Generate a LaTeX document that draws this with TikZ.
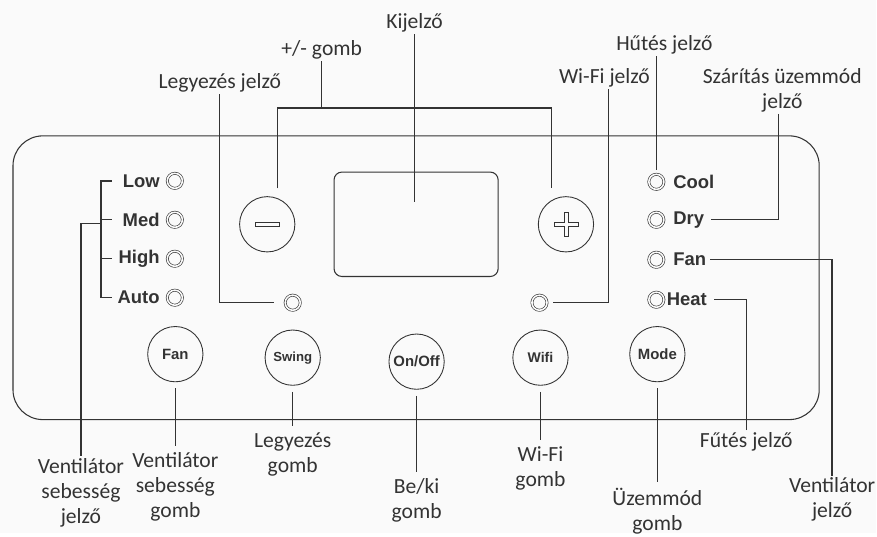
\documentclass[tikz,border=0pt]{standalone}
\usepackage{fontspec}
\setmainfont{Carlito}
\newfontfamily\btnfont{Liberation Sans}
\usetikzlibrary{positioning}

\definecolor{ink}{HTML}{333333}
\definecolor{paper}{HTML}{FAFAFA}

\begin{document}
\begin{tikzpicture}
    [x=0.02cm,y=-0.02cm,color=ink,every node/.style={inner sep=1pt}]

    \tikzstyle{led}   = [draw,circle,double=paper,double distance=0.9pt,line width=0.35pt,minimum size=8.6pt,inner sep=0pt]
    \tikzstyle{btn}   = [draw,circle,line width=0.5pt,minimum size=31.5pt,inner sep=0pt,font=\btnfont\bfseries\fontsize{8.5}{10}\selectfont]
    \tikzstyle{key}   = [font=\btnfont\bfseries\fontsize{10.5}{12}\selectfont]
    \tikzstyle{label} = [align=center,font=\fontsize{12.3}{14.3}\selectfont]
    \tikzstyle{lead}  = [line width=0.8pt]
    \tikzstyle{tolab} = [lead,shorten <=3.5pt,shorten >=2.5pt]

    \fill [paper] (0,0) rectangle (877,534);
    \draw [line width=0.6pt,rounded corners=17pt] (13,136) rectangle (820,420);

    % display and +/- keys
    \node [draw,line width=0.6pt,rounded corners=4.5pt,minimum width=93.5pt,minimum height=59.5pt] (disp) at (416.5,224.5) {};
    \node [btn] (minus) at (267.5,224.5) {};
    \node [btn] (plus)  at (566.5,224.5) {};
    \draw [line width=0.4pt] (minus.center) +(-12,-2) rectangle +(12,2);
    \draw [line width=0.4pt] (plus.center) +(-12,-2) -- +(-2,-2) -- +(-2,-12) -- +(2,-12) -- +(2,-2)
          -- +(12,-2) -- +(12,2) -- +(2,2) -- +(2,12) -- +(-2,12) -- +(-2,2) -- +(-12,2) -- cycle;

    % fan speed leds
    \node [led] (ledlow)  at (175,181) {};
    \node [led] (ledmed)  at (175,220) {};
    \node [led] (ledhigh) at (175,259) {};
    \node [led] (ledauto) at (175,298) {};
    \node [key,left=3pt of ledlow]  (klow)  {Low};
    \node [key,left=3pt of ledmed]  (kmed)  {Med};
    \node [key,left=3pt of ledhigh] (khigh) {High};
    \node [key,left=3pt of ledauto] (kauto) {Auto};
    \draw [lead] (112,181) -| (101,298) -- (112,298);
    \draw [lead] (101,220) -- (112,220);
    \draw [lead] (101,259) -- (112,259);

    % mode leds
    \node [led] (ledcool) at (657,182) {};
    \node [led] (leddry)  at (657,220) {};
    \node [led] (ledfan)  at (657,260) {};
    \node [led] (ledheat) at (657,300) {};
    \node [key,right=4pt of ledcool]   (kcool) {Cool};
    \node [key,right=4pt of leddry]    (kdry)  {Dry};
    \node [key,right=4pt of ledfan]    (kfan)  {Fan};
    \node [key,right=0.3pt of ledheat] (kheat) {Heat};

    \node [led] (swled)   at (293,303) {};
    \node [led] (wifiled) at (540,303) {};

    % buttons
    \node [btn] (fanbtn)   at (175.5,354.5) {Fan};
    \node [btn,font=\btnfont\bfseries\fontsize{7.5}{9}\selectfont] (swingbtn) at (293,358) {Swing};
    \node [btn] (onoffbtn) at (417,362) {On/Off};
    \node [btn,font=\btnfont\bfseries\fontsize{8}{9}\selectfont] (wifibtn) at (541,358) {Wifi};
    \node [btn] (modebtn)  at (658,354.5) {Mode};

    % labels
    \node [label] (kij) at (415,23)  {Kijelző};
    \node [label] (pm)  at (322,50)  {+/- gomb};
    \node [label] (lsj) at (220,83)  {Legyezés jelző};
    \node [label] (wfj) at (605,78)  {Wi-Fi jelző};
    \node [label] (huj) at (665,45)  {Hűtés jelző};
    \node [label] (szj) at (783,90)  {Szárítás üzemmód\\jelző};
    \node [label] (vej) at (833,500) {Ventilátor\\jelző};
    \node [label] (fuj) at (747,442) {Fűtés jelző};
    \node [label] (vsj) at (81,493)  {Ventilátor\\sebesség\\jelző};
    \node [label] (vsg) at (175.5,487) {Ventilátor\\sebesség\\gomb};
    \node [label] (lgg) at (293,455) {Legyezés\\gomb};
    \node [label] (bkg) at (417,501) {Be/ki\\gomb};
    \node [label] (wfg) at (541,469) {Wi-Fi\\gomb};
    \node [label] (uzg) at (658,512) {Üzemmód\\gomb};

    \coordinate (dispin) at (415,202);
    \coordinate (pml) at (278,108);
    \coordinate (pmr) at (552,108);
    \coordinate (wfx) at (609,305);
    \coordinate (szx) at (779,221);
    \coordinate (brk) at (101,224);

    % leader lines
    \draw [lead] (kij.south) -- (dispin);
    \draw [lead] (pm.south) -- (pm.south |- pml);
    \draw [lead,shorten <=4.5pt,shorten >=4.5pt] (pml |- minus.north) -- (pml) -- (pmr) -- (pmr |- plus.north);
    \draw [lead,shorten >=6pt] (lsj.south) |- (swled.west);
    \draw [lead,shorten >=3pt] (wfj.south -| wfx) |- (wifiled.east);
    \draw [lead,shorten >=2pt] (huj.south -| ledcool) -- (ledcool.north);
    \draw [lead,shorten >=3pt] (szj.south -| szx) |- (kdry.east);
    \draw [lead,shorten >=1pt] (vej.north) |- (kfan.east);
    \draw [lead,shorten >=3pt] (fuj.north) |- (kheat.east);
    \draw [lead] (vsj.north) |- (brk);

    \draw [tolab] (fanbtn.south)   -- (vsg.north);
    \draw [tolab] (swingbtn.south) -- (lgg.north);
    \draw [tolab] (onoffbtn.south) -- (bkg.north);
    \draw [tolab] (wifibtn.south)  -- (wfg.north);
    \draw [tolab] (modebtn.south)  -- (uzg.north);
  \end{tikzpicture}
\end{document}
